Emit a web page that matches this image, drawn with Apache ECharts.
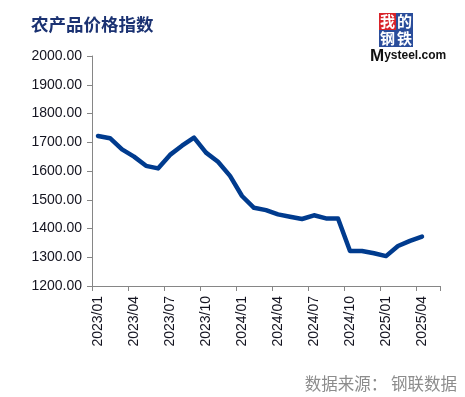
<!DOCTYPE html>
<html>
<head>
<meta charset="utf-8">
<script src="https://cdn.jsdelivr.net/npm/echarts@6/dist/echarts.min.js"></script>
<style>
html,body{margin:0;padding:0;background:#fff;}
#chart{width:465px;height:397px;}
</style>
</head>
<body>
<div id="chart"></div>
<script>
var titleText = '农产品价格指数';
var sourceText = '数据来源： 钢联数据';
var categories = [
  '2023/01','2023/02','2023/03','2023/04','2023/05','2023/06','2023/07','2023/08','2023/09','2023/10','2023/11','2023/12',
  '2024/01','2024/02','2024/03','2024/04','2024/05','2024/06','2024/07','2024/08','2024/09','2024/10','2024/11','2024/12',
  '2025/01','2025/02','2025/03','2025/04','2025/05'
];
var indexValues = [
  1722, 1714, 1675, 1650, 1618, 1609, 1656, 1688, 1716, 1664, 1632, 1583,
  1513, 1472, 1464, 1449, 1441, 1433, 1446, 1435, 1435, 1322, 1322, 1314,
  1304, 1339, 1357, 1372, '-'
];
var yMin = 1200, yMax = 2000, yStep = 100;

var chart = echarts.init(document.getElementById('chart'), null, {renderer: 'canvas'});
var font = '"Liberation Sans", Arial, sans-serif';
chart.setOption({
  animation: false,
  backgroundColor: '#ffffff',
  grid: {left: 92, right: 25, top: 56, bottom: 111, containLabel: false},
  xAxis: {
    type: 'category',
    data: categories,
    boundaryGap: true,
    axisLine: {lineStyle: {color: '#868686', width: 1}},
    axisTick: {show: true, interval: 2, length: 5, lineStyle: {color: '#868686'}},
    axisLabel: {interval: 2, rotate: 90, fontSize: 14, color: '#141420', fontFamily: font, margin: 10}
  },
  yAxis: {
    type: 'value',
    min: yMin, max: yMax, interval: yStep,
    splitLine: {show: false},
    axisLine: {show: true, lineStyle: {color: '#868686', width: 1}},
    axisTick: {show: true, length: 5, lineStyle: {color: '#868686'}},
    axisLabel: {
      fontSize: 14, color: '#141420', fontFamily: font, margin: 10,
      formatter: function (v) { return v.toFixed(2); }
    }
  },
  series: [{
    type: 'line',
    data: indexValues,
    showSymbol: false,
    symbol: 'none',
    smooth: false,
    lineStyle: {color: '#003b8e', width: 4.5, join: 'round', cap: 'round'}
  }],
  graphic: [
    {type: 'text', left: 31, top: 16, style: {text: titleText, font: 'bold 17.5px "Noto Sans CJK SC", sans-serif', fill: '#1b3272'}},
    {type: 'text', right: 8, top: 375, style: {text: sourceText, font: '16.5px "Noto Sans CJK SC", sans-serif', fill: '#8c8c8c'}},
    {type: 'rect', shape: {x: 379, y: 13, width: 17, height: 17}, style: {fill: '#d8232a'}},
    {type: 'rect', shape: {x: 396, y: 13, width: 17, height: 17}, style: {fill: '#2a4d9b'}},
    {type: 'rect', shape: {x: 379, y: 30, width: 17, height: 17}, style: {fill: '#2a4d9b'}},
    {type: 'rect', shape: {x: 396, y: 30, width: 17, height: 17}, style: {fill: '#2a4d9b'}},
    {type: 'text', x: 387.5, y: 21.5, style: {text: '我', font: 'bold 15px "Noto Sans CJK SC", sans-serif', fill: '#ffffff', align: 'center', verticalAlign: 'middle'}},
    {type: 'text', x: 404.5, y: 21.5, style: {text: '的', font: 'bold 15px "Noto Sans CJK SC", sans-serif', fill: '#ffffff', align: 'center', verticalAlign: 'middle'}},
    {type: 'text', x: 387.5, y: 38.5, style: {text: '钢', font: 'bold 15px "Noto Sans CJK SC", sans-serif', fill: '#ffffff', align: 'center', verticalAlign: 'middle'}},
    {type: 'text', x: 404.5, y: 38.5, style: {text: '铁', font: 'bold 15px "Noto Sans CJK SC", sans-serif', fill: '#ffffff', align: 'center', verticalAlign: 'middle'}},
    {type: 'text', x: 370, y: 56, style: {text: '{m|M}{r|ysteel.com}', verticalAlign: 'middle', rich: {
      m: {font: 'bold 17px "Liberation Sans", Arial, sans-serif', fill: '#111111'},
      r: {font: 'bold 12px "Liberation Sans", Arial, sans-serif', fill: '#111111'}
    }}}
  ]
});
</script>
</body>
</html>
